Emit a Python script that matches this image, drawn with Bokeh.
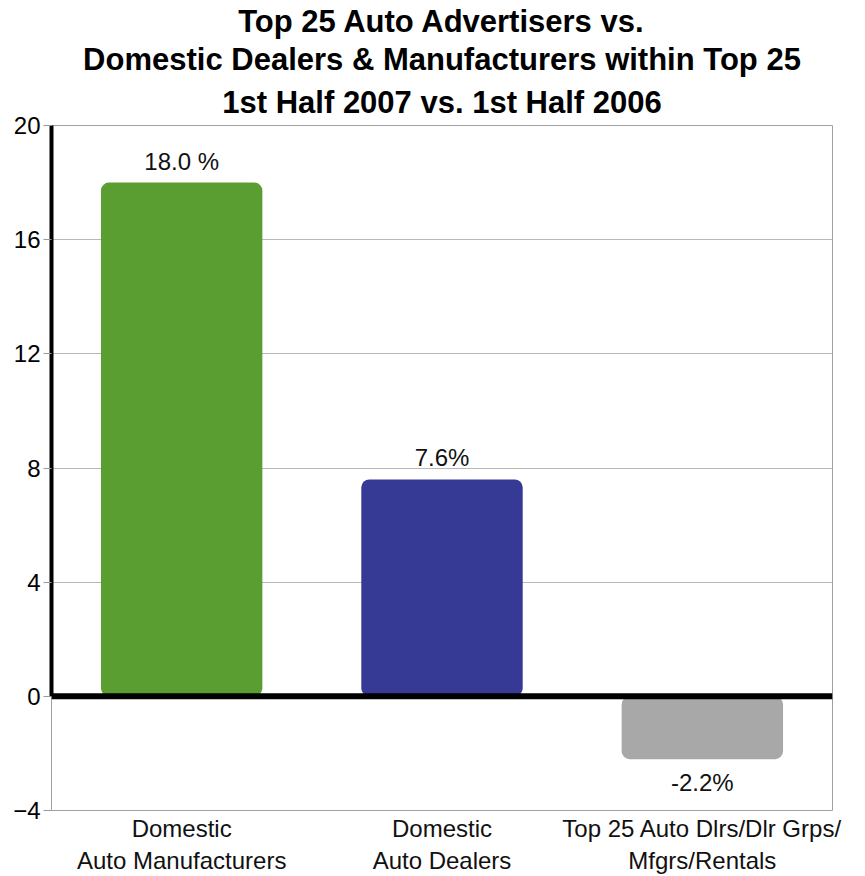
from bokeh.plotting import figure
from bokeh.models import FactorRange, Range1d, FixedTicker, Span, Label, ColumnDataSource, Title
from bokeh.embed import file_html
from bokeh.resources import INLINE
from bokeh.core.properties import value

title_lines = [
    "Top 25 Auto Advertisers vs.",
    "Domestic Dealers & Manufacturers within Top 25",
    "1st Half 2007 vs. 1st Half 2006",
]
categories = [
    "Domestic\nAuto Manufacturers",
    "Domestic\nAuto Dealers",
    "Top 25 Auto Dlrs/Dlr Grps/\nMfgrs/Rentals",
]
values = [18.0, 7.6, -2.2]
value_labels = ["18.0 %", "7.6%", "-2.2%"]
colors = ["#5a9e32", "#363a94", "#a8a8a8"]
y_ticks = [-4, 0, 4, 8, 12, 16, 20]
y_min, y_max = -4, 20

FONT = "Liberation Sans"

p = figure(
    width=865, height=876,
    x_range=FactorRange(*categories, range_padding=0, factor_padding=0),
    y_range=Range1d(y_min, y_max),
    output_backend="svg", toolbar_location=None,
    min_border_left=51, min_border_right=33, min_border_bottom=50, min_border_top=0,
)
p.background_fill_color = "white"
p.border_fill_color = "white"
p.outline_line_color = "#a0a0a0"
p.outline_line_width = 1
p.title = None

standoffs = [12, 0, 2]  # nearest to plot first
for line, so in zip(reversed(title_lines), standoffs):
    p.add_layout(Title(text=line, align="center", text_font=FONT, text_font_size="31px",
                       text_font_style="bold", text_color="black", text_line_height=1.2,
                       standoff=so), "above")

# y axis
yax = p.yaxis[0]
yax.ticker = FixedTicker(ticks=y_ticks)
yax.bounds = (0, y_max)
yax.axis_line_color = "black"
yax.axis_line_width = 4
yax.major_tick_line_color = "#999999"
yax.major_tick_out = 8
yax.major_tick_in = 0
yax.minor_tick_line_color = None
yax.major_label_text_font = FONT
yax.major_label_text_font_size = "24px"
yax.major_label_text_color = "black"
yax.major_label_standoff = 3

p.add_layout(Label(x=0, y=y_min, text=str(y_min), x_offset=-11, text_align="right",
                   text_baseline="middle", text_font=FONT, text_font_size="24px",
                   text_color="black"))

# x axis
xax = p.xaxis[0]
xax.axis_line_color = None
xax.major_tick_line_color = None
xax.major_tick_out = 0
xax.major_tick_in = 0
xax.minor_tick_line_color = None
xax.major_label_text_font = FONT
xax.major_label_text_font_size = "24px"
xax.major_label_text_color = "#111111"
xax.major_label_standoff = 4
xax.major_label_text_line_height = 1.2

p.xgrid.grid_line_color = None
p.ygrid.grid_line_color = "#b8b8b8"
p.ygrid.grid_line_width = 1

src = ColumnDataSource(dict(cat=categories, val=values, color=colors, lab=value_labels))
p.vbar(x="cat", top="val", bottom=0, width=0.62, fill_color="color", line_color=None,
       border_radius=8, source=src)

p.add_layout(Span(location=0, dimension="width", line_color="black", line_width=6))

pos = [i for i, v in enumerate(values) if v >= 0]
neg = [i for i, v in enumerate(values) if v < 0]
src_pos = ColumnDataSource(dict(cat=[categories[i] for i in pos], val=[values[i] for i in pos],
                                lab=[value_labels[i] for i in pos]))
src_neg = ColumnDataSource(dict(cat=[categories[i] for i in neg], val=[values[i] for i in neg],
                                lab=[value_labels[i] for i in neg]))
p.text(x="cat", y="val", text="lab", source=src_pos, text_align="center", text_baseline="bottom",
       y_offset=-8, text_font=value(FONT), text_font_size="24px", text_color="#111111")
p.text(x="cat", y="val", text="lab", source=src_neg, text_align="center", text_baseline="top",
       y_offset=10, text_font=value(FONT), text_font_size="24px", text_color="#111111")

open("out.html", "w").write(file_html(p, INLINE))
